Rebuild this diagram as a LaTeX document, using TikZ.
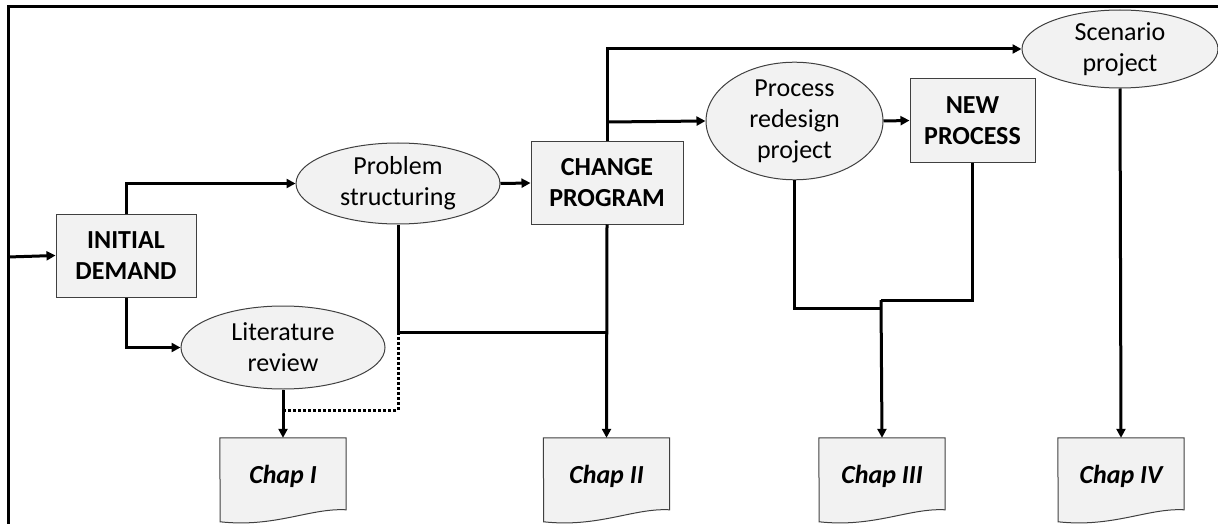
\documentclass[tikz,border=0pt]{standalone}
\usepackage{fontspec}
\setmainfont{Carlito}
\usetikzlibrary{arrows.meta,shapes.geometric,calc,backgrounds}
\begin{document}
\begin{tikzpicture}[x=1pt,y=-1pt,
  every node/.style={font=\fontsize{26}{31}\selectfont, align=center, inner sep=0pt, text=black},
  ell/.style={ellipse, draw=black!75, line width=1pt, fill=black!5},
  boxn/.style={rectangle, draw=black!75, line width=1pt, fill=black!5, font=\fontsize{26}{31}\selectfont\bfseries},
  docn/.style={rectangle, minimum width=126, minimum height=76, font=\fontsize{26}{31}\selectfont\bfseries\itshape},
  docshape/.style={draw=black!75, line width=1pt, fill=black!5},
  conn/.style={line width=3pt},
  arr/.style={conn, -{Triangle[length=9pt,width=9pt]}},
  dots/.style={line width=3pt, dotted},
]
\useasboundingbox (0,0) rectangle (1218,524);
% frame
\draw[conn] (8,524) -- (8,7) -- (1218,7);

% nodes
\node[boxn, minimum width=140, minimum height=83] (init) at (126,255.5) {INITIAL\\DEMAND};
\node[ell, minimum width=204, minimum height=81] (prob) at (398,183.5) {Problem\\structuring};
\node[ell, minimum width=204, minimum height=83] (lit) at (283,347.5) {Literature\\review};
\node[boxn, minimum width=152, minimum height=82] (chg) at (607,183) {CHANGE\\PROGRAM};
\node[ell, minimum width=177, minimum height=108] (proc) at (794.5,121) {Process\\redesign\\project};
\node[boxn, minimum width=125, minimum height=83] (newp) at (972.5,120.5) {NEW\\PROCESS};
\node[ell, minimum width=196, minimum height=78] (scen) at (1120,49) {Scenario\\project};

\node[docn] (c1) at (283,476) {Chap I};
\node[docn] (c2) at (606.5,476) {Chap II};
\node[docn] (c3) at (882,476) {Chap III};
\node[docn] (c4) at (1121,476) {Chap IV};

\begin{scope}[on background layer]
\foreach \c in {c1,c2,c3,c4}{
  \draw[docshape] (\c.north west) -- (\c.north east) -- ++(0,72)
     .. controls +(-36,-2) and +(55,6) .. ++(-126,12) -- cycle;
}
\end{scope}

% junction coordinates
\coordinate (in) at (8,257);
\coordinate (j1) at (607,332);
\coordinate (jd) at (398,332);
\coordinate (jl) at (283,410);
\coordinate (j2) at (607,122);
\coordinate (j3) at (881,308);
\coordinate (j4) at (881,300);

% connectors
\draw[arr] (in) -- (init.west);
\draw[arr] (init.north) |- (prob.west);
\draw[arr] (init.south) |- (lit.west);
\draw[arr] (prob.east) -- (chg.west);
\draw[conn] (prob.south) |- (j1);
\draw[arr] (chg.south) -- (c2.north);
\draw[dots] (jd) |- (jl);
\draw[arr] (lit.south) -- (c1.north);
\draw[arr] (chg.north) |- (scen.west);
\draw[arr] (j2) -- (proc.west);
\draw[arr] (proc.east) -- (newp.west);
\draw[conn] (proc.south) |- (j3);
\draw[conn] (newp.south) |- (j4);
\draw[arr] (j4) -- (c3.north);
\draw[arr] (scen.south) -- (c4.north);
\end{tikzpicture}
\end{document}
